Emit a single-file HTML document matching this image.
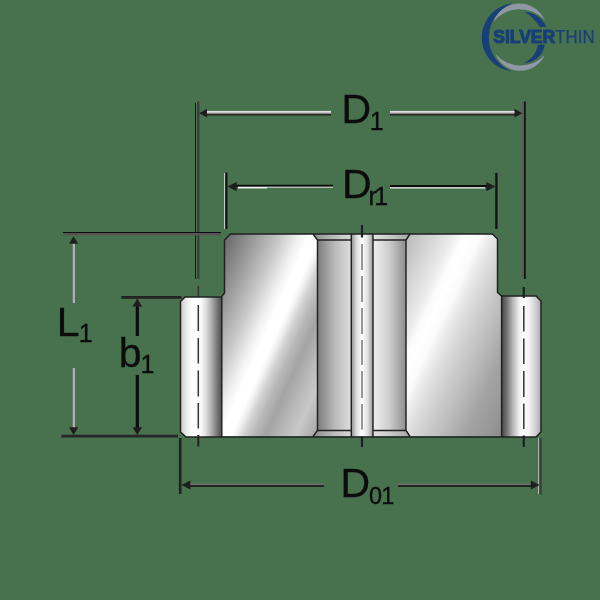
<!DOCTYPE html>
<html>
<head>
<meta charset="utf-8">
<title>Bearing dimension drawing</title>
<style>
html,body{margin:0;padding:0;background:#47724D;}
body{width:600px;height:600px;overflow:hidden;position:relative;font-family:"Liberation Sans",sans-serif;}
svg{position:absolute;left:0;top:0;display:block;filter:blur(0.45px);}
text{font-family:"Liberation Sans",sans-serif;fill:#0c0c0c;}
.k{stroke:#1c1c1c;stroke-width:1.4;fill:none;}
.kt{stroke:#141414;stroke-width:2.2;fill:none;}
.g{stroke:#8c8c8c;stroke-width:1.4;fill:none;}
.w{stroke:#e4e4e4;stroke-width:1.1;fill:none;}
.cl{stroke:#2c2c2c;stroke-width:1.3;fill:none;}
.ar{fill:#1e1e1e;stroke:none;}
.ol{stroke:#202020;stroke-width:1.45;fill:none;stroke-linejoin:miter;}
</style>
</head>
<body>
<svg width="600" height="600" viewBox="0 0 600 600">
<defs>
  <linearGradient id="gLF" gradientUnits="userSpaceOnUse" x1="180.5" y1="0" x2="222" y2="0">
    <stop offset="0" stop-color="#c0c0c0"/>
    <stop offset="0.06" stop-color="#d8d8d8"/>
    <stop offset="0.2" stop-color="#f4f4f4"/>
    <stop offset="0.3" stop-color="#ffffff"/>
    <stop offset="0.5" stop-color="#fafafa"/>
    <stop offset="0.62" stop-color="#dcdcdc"/>
    <stop offset="0.75" stop-color="#acacac"/>
    <stop offset="0.88" stop-color="#787878"/>
    <stop offset="1" stop-color="#4c4c4c"/>
  </linearGradient>
  <linearGradient id="gRF" gradientUnits="userSpaceOnUse" x1="501.5" y1="0" x2="541" y2="0">
    <stop offset="0" stop-color="#444444"/>
    <stop offset="0.12" stop-color="#6e6e6e"/>
    <stop offset="0.28" stop-color="#b4b4b4"/>
    <stop offset="0.45" stop-color="#f0f0f0"/>
    <stop offset="0.56" stop-color="#ffffff"/>
    <stop offset="0.7" stop-color="#f2f2f2"/>
    <stop offset="0.88" stop-color="#cccccc"/>
    <stop offset="1" stop-color="#a8a8a8"/>
  </linearGradient>
  <linearGradient id="gLB" gradientUnits="userSpaceOnUse" x1="193.4" y1="301.6" x2="343.6" y2="368.4">
    <stop offset="0" stop-color="#6a6a6a"/>
    <stop offset="0.05" stop-color="#737373"/>
    <stop offset="0.18" stop-color="#9a9a9a"/>
    <stop offset="0.32" stop-color="#c8c8c8"/>
    <stop offset="0.43" stop-color="#f2f2f2"/>
    <stop offset="0.48" stop-color="#ffffff"/>
    <stop offset="0.54" stop-color="#ffffff"/>
    <stop offset="0.57" stop-color="#f0f0f0"/>
    <stop offset="0.61" stop-color="#d2d2d2"/>
    <stop offset="0.665" stop-color="#b8b8b8"/>
    <stop offset="0.73" stop-color="#a4a4a4"/>
    <stop offset="0.77" stop-color="#acacac"/>
    <stop offset="0.815" stop-color="#b8b8b8"/>
    <stop offset="0.9" stop-color="#c8c8c8"/>
    <stop offset="0.98" stop-color="#b0b0b0"/>
    <stop offset="1" stop-color="#a8a8a8"/>
  </linearGradient>
  <linearGradient id="gRB" gradientUnits="userSpaceOnUse" x1="375.9" y1="298.6" x2="532.1" y2="371.4">
    <stop offset="0" stop-color="#bababa"/>
    <stop offset="0.04" stop-color="#c0c0c0"/>
    <stop offset="0.156" stop-color="#d8d8d8"/>
    <stop offset="0.25" stop-color="#ebebeb"/>
    <stop offset="0.3" stop-color="#fcfcfc"/>
    <stop offset="0.34" stop-color="#ffffff"/>
    <stop offset="0.4" stop-color="#fbfbfb"/>
    <stop offset="0.44" stop-color="#eeeeee"/>
    <stop offset="0.5" stop-color="#dedede"/>
    <stop offset="0.59" stop-color="#cccccc"/>
    <stop offset="0.7" stop-color="#b8b8b8"/>
    <stop offset="0.8" stop-color="#a4a4a4"/>
    <stop offset="0.91" stop-color="#989898"/>
    <stop offset="1" stop-color="#8c8c8c"/>
  </linearGradient>
  <linearGradient id="gGL" gradientUnits="userSpaceOnUse" x1="317.5" y1="0" x2="351" y2="0">
    <stop offset="0" stop-color="#7c7c7c"/>
    <stop offset="0.5" stop-color="#b8b8b8"/>
    <stop offset="1" stop-color="#dedede"/>
  </linearGradient>
  <linearGradient id="gGR" gradientUnits="userSpaceOnUse" x1="373" y1="0" x2="406" y2="0">
    <stop offset="0" stop-color="#f0f0f0"/>
    <stop offset="0.5" stop-color="#cccccc"/>
    <stop offset="1" stop-color="#8e8e8e"/>
  </linearGradient>
  <linearGradient id="gCS" gradientUnits="userSpaceOnUse" x1="351" y1="0" x2="373" y2="0">
    <stop offset="0" stop-color="#8a8a8a"/>
    <stop offset="0.25" stop-color="#dcdcdc"/>
    <stop offset="0.5" stop-color="#ffffff"/>
    <stop offset="0.75" stop-color="#e0e0e0"/>
    <stop offset="1" stop-color="#9c9c9c"/>
  </linearGradient>
  <linearGradient id="gCH" gradientUnits="userSpaceOnUse" x1="313" y1="0" x2="410" y2="0">
    <stop offset="0" stop-color="#8e8e8e"/>
    <stop offset="0.2" stop-color="#b8b8b8"/>
    <stop offset="0.38" stop-color="#d6d6d6"/>
    <stop offset="0.62" stop-color="#e2e2e2"/>
    <stop offset="0.8" stop-color="#c8c8c8"/>
    <stop offset="1" stop-color="#a6a6a6"/>
  </linearGradient>
  <linearGradient id="gTube" x1="0" y1="0" x2="0" y2="1">
    <stop offset="0" stop-color="#f2f2f2"/>
    <stop offset="0.35" stop-color="#c4c4c4"/>
    <stop offset="0.6" stop-color="#808080"/>
    <stop offset="0.8" stop-color="#262626"/>
    <stop offset="1" stop-color="#101010"/>
  </linearGradient>
</defs>

<!-- ===== bearing body ===== -->
<g id="bearing">
  <!-- left flange -->
  <polygon points="180.5,301.5 185,297 222,297 222,437 186,437 180.5,432" fill="url(#gLF)"/>
  <!-- right flange -->
  <polygon points="501.5,296 536,296 541,301 541,432 536,437 501.5,437" fill="url(#gRF)"/>
  <!-- left body -->
  <polygon points="224.5,240 230.5,234 313,234 317.5,240 317.5,430.5 313,436.5 221.5,436.5 221.5,297 224.5,293" fill="url(#gLB)"/>
  <!-- right body -->
  <polygon points="406,240 410,234 492.5,234 497.5,239 497.5,292.5 501.5,296 501.5,436.5 410,436.5 406,430.5" fill="url(#gRB)"/>
  <!-- groove chamfer bands -->
  <polygon points="313,234 410,234 406,240 317.5,240" fill="url(#gCH)"/>
  <polygon points="317.5,430.5 406,430.5 410,436.5 313,436.5" fill="url(#gCH)"/>
  <!-- groove inner -->
  <rect x="317.5" y="240" width="33.5" height="190.5" fill="url(#gGL)"/>
  <rect x="373" y="240" width="33" height="190.5" fill="url(#gGR)"/>
  <!-- centre strip -->
  <rect x="351" y="234" width="22" height="202.5" fill="url(#gCS)"/>

  <!-- outlines -->
  <polygon class="ol" points="180.5,301.5 185,297 221.5,297 224.5,293 224.5,240 230.5,234 492.5,234 497.5,239 497.5,292.5 501.5,296 536,296 541,301 541,432 536,437 186,437 180.5,432"/>
  <line class="ol" x1="221.8" y1="297" x2="221.8" y2="437"/>
  <line class="ol" x1="501.6" y1="296" x2="501.6" y2="437"/>
  <polyline class="ol" points="313,234 317.5,240 317.5,430.5 313,436.5"/>
  <polyline class="ol" points="410,234 406,240 406,430.5 410,436.5"/>
  <line class="ol" x1="317.5" y1="240" x2="351" y2="240"/>
  <line class="ol" x1="373" y1="240" x2="406" y2="240"/>
  <line class="ol" x1="317.5" y1="430.5" x2="351" y2="430.5"/>
  <line class="ol" x1="373" y1="430.5" x2="406" y2="430.5"/>
  <line class="ol" x1="351.3" y1="234" x2="351.3" y2="437"/>
  <line class="ol" x1="373" y1="234" x2="373" y2="437"/>
</g>

<!-- ===== centre lines ===== -->
<g id="centrelines">
  <path class="cl" style="stroke:#333;stroke-width:1.5" d="M198.3 286V297.5 M198.3 305V331 M198.3 338V363.5 M198.3 370.5V396.5 M198.3 403V428.5"/>
  <path class="cl" style="stroke:#222;stroke-width:2" d="M198.3 435V446.5"/>
  <path class="cl" style="stroke:#555;stroke-width:1.2" d="M362 244V270 M362 276V302 M362 308V334 M362 340V365 M362 371V398 M362 404V429.5"/>
  <path class="cl" style="stroke:#1e1e28;stroke-width:2.2" d="M362 225V237.5 M362 436.5V447"/>
  <path class="cl" style="stroke:#333;stroke-width:1.5" d="M523.8 306V331.5 M523.8 338.5V364 M523.8 371V397 M523.8 403.5V429"/>
  <path class="cl" style="stroke:#1e1e28;stroke-width:2.2" d="M523.8 287V298 M523.8 435.5V447"/>
</g>

<!-- ===== extension lines ===== -->
<g id="ext">
  <!-- D1 extension lines (double tone) -->
  <line x1="195.5" y1="103" x2="195.5" y2="279" stroke="#0e0e0e" stroke-width="0.9"/>
  <line x1="198.3" y1="101.5" x2="198.3" y2="279" stroke="#3c3c3c" stroke-width="2.2"/>
  <line x1="523.1" y1="101.5" x2="523.1" y2="279" stroke="#5a5a5a" stroke-width="2"/>
  <line x1="524.9" y1="101.5" x2="524.9" y2="279" stroke="#0c0c10" stroke-width="1.6"/>
  <!-- Dr1 extension lines -->
  <line x1="224.7" y1="173" x2="224.7" y2="229" stroke="#e8e8e8" stroke-width="0.9"/>
  <line x1="226.4" y1="172.5" x2="226.4" y2="229" stroke="#101010" stroke-width="2.1"/>
  <line x1="496.4" y1="173" x2="496.4" y2="229" stroke="#14141c" stroke-width="2.4"/>
  <!-- D01 extension lines -->
  <line x1="180.2" y1="438" x2="180.2" y2="494" stroke="#222222" stroke-width="2.6"/>
  <line x1="538.8" y1="438" x2="538.8" y2="494" stroke="#e0e0e0" stroke-width="0.9"/>
  <line x1="540.5" y1="438" x2="540.5" y2="494.5" stroke="#3c3c3c" stroke-width="2.4"/>
  <!-- L1 / b1 extension lines -->
  <line x1="63" y1="232.5" x2="221" y2="232.5" stroke="#0c0c0c" stroke-width="1"/>
  <line x1="63" y1="234.3" x2="221" y2="234.3" stroke="#565656" stroke-width="2.6"/>
  <line x1="61.5" y1="436.2" x2="178" y2="436.2" stroke="#26262c" stroke-width="2.8"/>
  <line x1="121.3" y1="297.4" x2="181.5" y2="297.4" stroke="#222222" stroke-width="2.6"/>
</g>

<!-- ===== dimension lines ===== -->
<g id="dims">
  <!-- D1 -->
  <rect x="206" y="110.9" width="125" height="4.5" fill="url(#gTube)"/>
  <rect x="390" y="110.9" width="126" height="4.5" fill="url(#gTube)"/>
  <polygon class="ar" points="199.2,113.2 207,108.8 207,117.6"/>
  <polygon class="ar" points="522.3,113.2 514.5,108.8 514.5,117.6"/>
  <!-- Dr1 -->
  <line x1="235" y1="185.8" x2="333" y2="185.8" stroke="#0c0c0c" stroke-width="2"/>
  <line x1="238" y1="187.6" x2="267" y2="187.6" stroke="#f4f4f4" stroke-width="1.7"/>
  <line x1="267" y1="187.2" x2="333" y2="187.2" stroke="#f0f0f0" stroke-width="0.9"/>
  <line x1="390" y1="186" x2="487" y2="186" stroke="#0c0c0c" stroke-width="2"/>
  <line x1="390" y1="187.8" x2="485" y2="187.8" stroke="#f0f0f0" stroke-width="1.3"/>
  <polygon class="ar" points="227.5,186.6 236.6,182 236.6,191.2"/>
  <polygon class="ar" points="495.4,186.6 486.3,182 486.3,191.2"/>
  <!-- D01 -->
  <line x1="188" y1="484.5" x2="324" y2="484.5" stroke="#707070" stroke-width="1.9"/>
  <line x1="188" y1="486.1" x2="324" y2="486.1" stroke="#0e0e0e" stroke-width="1.5"/>
  <line x1="398" y1="484.5" x2="532" y2="484.5" stroke="#707070" stroke-width="1.9"/>
  <line x1="398" y1="486.1" x2="532" y2="486.1" stroke="#0e0e0e" stroke-width="1.5"/>
  <polygon class="ar" points="181.5,485 190.3,480.4 190.3,489.6"/>
  <polygon class="ar" points="539.6,485 530.8,480.4 530.8,489.6"/>
  <!-- L1 -->
  <line x1="72.7" y1="243" x2="72.7" y2="303" stroke="#7a7a7a" stroke-width="1.1"/>
  <line x1="74" y1="243" x2="74" y2="303" stroke="#d2d2d2" stroke-width="1.4"/>
  <line x1="72.7" y1="368" x2="72.7" y2="429" stroke="#7a7a7a" stroke-width="1.1"/>
  <line x1="74" y1="368" x2="74" y2="429" stroke="#d2d2d2" stroke-width="1.4"/>
  <polygon class="ar" points="73.6,236.2 69,243.8 78.2,243.8"/>
  <polygon class="ar" points="73.6,435 69,427.2 78.2,427.2"/>
  <!-- b1 -->
  <line x1="137.3" y1="305" x2="137.3" y2="336" stroke="#0c0c0c" stroke-width="3.2"/>
  <line x1="137.3" y1="375" x2="137.3" y2="429" stroke="#0c0c0c" stroke-width="3.2"/>
  <polygon class="ar" points="137.3,298.6 132.5,306.4 142.1,306.4"/>
  <polygon class="ar" points="137.3,435 132.5,427.2 142.1,427.2"/>
</g>

<!-- ===== labels ===== -->
<g id="labels" stroke="#0c0c0c" stroke-width="0.3">
  <text x="341.6" y="123.4" font-size="41">D</text>
  <text x="369.8" y="129.6" font-size="25">1</text>
  <text x="342" y="198.2" font-size="41">D</text>
  <text x="368.4" y="205" font-size="25" letter-spacing="-2.4">r1</text>
  <text x="340.6" y="497.2" font-size="41">D</text>
  <text x="369.1" y="504.3" font-size="23.5" letter-spacing="-1">01</text>
  <text x="56.8" y="335.8" font-size="41">L</text>
  <text x="78.8" y="342.2" font-size="25">1</text>
  <text x="118.7" y="367.4" font-size="41">b</text>
  <text x="140.6" y="372.7" font-size="25">1</text>
</g>

<!-- ===== logo ===== -->
<g id="logo">
  <path d="M493.4 21.7 A27.7 27.7 0 0 1 544.7 20 A34.1 34.1 0 0 0 493.4 21.7Z" fill="#9098a6"/>
  <path d="M544.7 55.3 A27 27 0 0 1 495.3 54 A33.8 33.8 0 0 0 544.7 55.3Z" fill="#9098a6"/>
  <path d="M524.7 11.7 A25.5 25.5 0 0 1 546.3 27 L539.7 27 A44.6 44.6 0 0 0 524.7 11.7Z" fill="#193f79"/>
  <path d="M544.7 44.8 A20.4 20.4 0 0 1 524 62.7 A23.8 23.8 0 0 0 538 44.8Z" fill="#193f79"/>
  <path d="M512.5 3.3 A34.25 34.25 0 0 0 511.3 71.3 A36.57 36.57 0 0 1 512.5 3.3Z" fill="#193f79"/>
  <text x="493.2" y="43.4" font-size="18" font-weight="bold" textLength="62" lengthAdjust="spacingAndGlyphs" style="fill:#193f79;stroke:#193f79;stroke-width:1">SILVER</text>
  <text x="555.3" y="43.4" font-size="18" textLength="39.3" lengthAdjust="spacingAndGlyphs" style="fill:#193f79;stroke:#193f79;stroke-width:0.25">THIN</text>
</g>
</svg>
</body>
</html>
